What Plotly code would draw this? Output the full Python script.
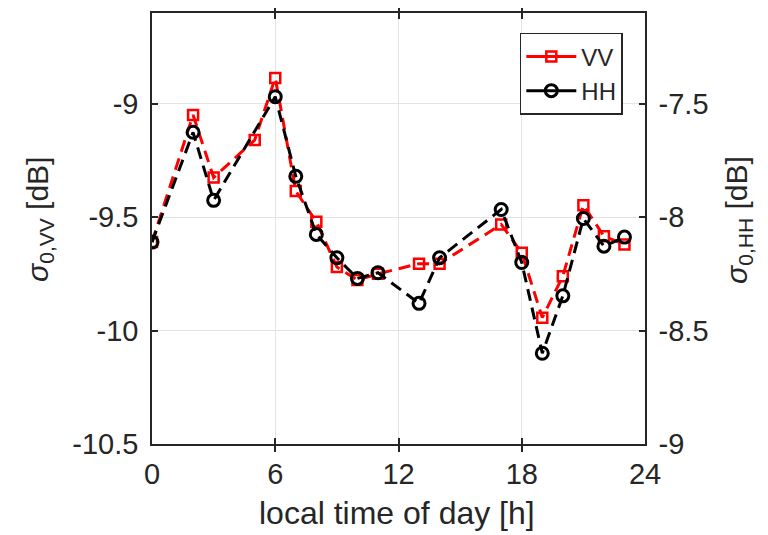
import plotly.graph_objects as go

hours_vv = [0, 2, 3, 5, 6, 7, 8, 9, 10, 11, 13, 14, 17, 18, 19, 20, 21, 22, 23]
sigma_vv = [-9.61, -9.05, -9.325, -9.16, -8.886, -9.385, -9.52, -9.72, -9.777, -9.75,
            -9.705, -9.705, -9.532, -9.657, -9.943, -9.76, -9.447, -9.584, -9.62]

hours_hh = [0, 2, 3, 6, 7, 8, 9, 10, 11, 13, 14, 17, 18, 19, 20, 21, 22, 23]
sigma_hh = [-8.11, -7.626, -7.926, -7.469, -7.82, -8.076, -8.179, -8.27, -8.245, -8.38,
            -8.179, -7.966, -8.2, -8.6, -8.347, -8.006, -8.128, -8.088]

x_ticks = [0, 6, 12, 18, 24]
vv_ticks = [-10.5, -10, -9.5, -9]
vv_tick_text = ["-10.5", "-10", "-9.5", "-9"]
hh_ticks = [-9, -8.5, -8, -7.5]
hh_tick_text = ["-9", "-8.5", "-8", "-7.5"]

FONT = "Liberation Sans, Arial, Helvetica, sans-serif"
AX = "#262626"
RED = "#ff0000"
BLK = "#000000"

vv_marker = dict(symbol="square-open", size=10, color=RED, line=dict(width=2.5, color=RED))
hh_marker = dict(symbol="circle-open", size=12, color=BLK, line=dict(width=3, color=BLK))

fig = go.Figure()
fig.add_trace(go.Scatter(
    x=hours_vv, y=sigma_vv, name="VV", mode="lines+markers", showlegend=False,
    line=dict(color=RED, width=3, dash="12px,7px"), marker=vv_marker, yaxis="y",
))
fig.add_trace(go.Scatter(
    x=hours_hh, y=sigma_hh, name="HH", mode="lines+markers", showlegend=False,
    line=dict(color=BLK, width=3, dash="12px,7px"), marker=hh_marker, yaxis="y2",
))
# legend entries (solid sample lines as in the reference legend)
fig.add_trace(go.Scatter(x=[None], y=[None], name="VV", mode="lines+markers",
                         line=dict(color=RED, width=3), marker=vv_marker, yaxis="y"))
fig.add_trace(go.Scatter(x=[None], y=[None], name="HH", mode="lines+markers",
                         line=dict(color=BLK, width=3), marker=hh_marker, yaxis="y2"))

# page body has an 8px margin, so the figure is 8px smaller and margins shifted
fig.update_layout(
    width=760, height=527,
    margin=dict(l=144, r=123, t=5, b=91, autoexpand=False),
    paper_bgcolor="white", plot_bgcolor="white",
    font=dict(family=FONT, size=29, color=AX),
    showlegend=True,
    legend=dict(
        x=0.955, y=0.954, xanchor="right", yanchor="top",
        bgcolor="white", bordercolor=AX, borderwidth=1.5,
        font=dict(size=24, color=AX), tracegroupgap=0, itemwidth=50,
    ),
    xaxis=dict(
        range=[0, 24], tickvals=x_ticks, ticktext=[str(v) for v in x_ticks],
        showgrid=True, gridcolor="#e3e3e3", gridwidth=1.2,
        showline=True, linecolor=AX, linewidth=1.5, mirror="allticks",
        ticks="inside", ticklen=6, tickcolor=AX, tickwidth=1.5,
        zeroline=False, automargin=False, ticklabelstandoff=3,
    ),
    yaxis=dict(
        range=[-10.5, -8.6], tickvals=vv_ticks, ticktext=vv_tick_text,
        showgrid=True, gridcolor="#e3e3e3", gridwidth=1.2,
        showline=True, linecolor=AX, linewidth=1.5,
        ticks="inside", ticklen=6, tickcolor=AX, tickwidth=1.5,
        zeroline=False, ticklabelstandoff=6, automargin=False,
    ),
    yaxis2=dict(
        range=[-9, -7.1], tickvals=hh_ticks, ticktext=hh_tick_text,
        overlaying="y", side="right", showgrid=False,
        showline=True, linecolor=AX, linewidth=1.5,
        ticks="inside", ticklen=6, tickcolor=AX, tickwidth=1.5,
        zeroline=False, ticklabelstandoff=6, automargin=False,
    ),
    annotations=[
        dict(text="local time of day [h]", xref="paper", yref="paper",
             x=0.497, y=-0.16, xanchor="center", yanchor="middle",
             showarrow=False, font=dict(size=32, color=AX)),
        dict(text="<i>σ</i><sub>0,VV</sub> [dB]", xref="paper", yref="paper",
             x=(40 - 152) / 493, y=0.52, xanchor="center", yanchor="middle",
             textangle=-90, showarrow=False, font=dict(size=30, color=AX)),
        dict(text="<i>σ</i><sub>0,HH</sub> [dB]", xref="paper", yref="paper",
             x=(739 - 152) / 493, y=0.52, xanchor="center", yanchor="middle",
             textangle=-90, showarrow=False, font=dict(size=30, color=AX)),
    ],
)

fig.write_html("out.html")
